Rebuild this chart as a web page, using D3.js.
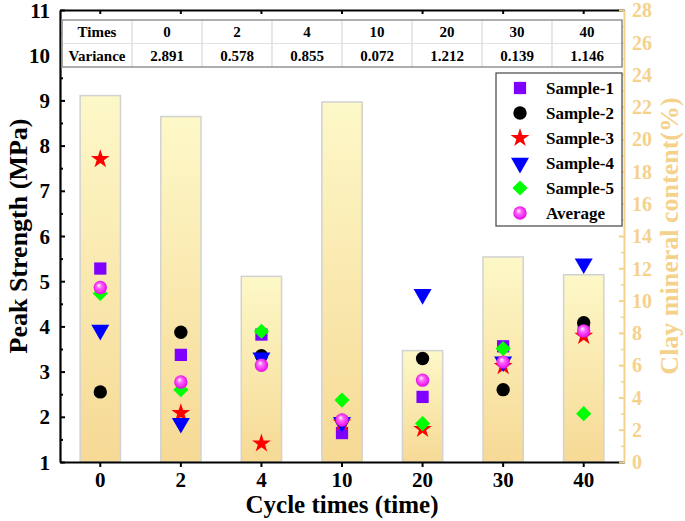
<!DOCTYPE html>
<html>
<head>
<meta charset="utf-8">
<script src="https://cdn.jsdelivr.net/npm/d3@7"></script>
<style>
  body { margin: 0; background: #fff; }
  text { font-family: "Liberation Serif", "Times New Roman", serif; font-weight: bold; }
</style>
</head>
<body>
<div id="vis"></div>
<script>
// chart data
var cycles = ['0', '2', '4', '10', '20', '30', '40'];
var clayContent = [22.7, 21.4, 11.5, 22.3, 6.9, 12.7, 11.6];
var sample1 = [5.28, 3.37, 3.82, 1.64, 2.44, 3.56, 3.98];
var sample2 = [2.55, 3.87, 3.35, 1.91, 3.29, 2.60, 4.08];
var sample3 = [7.70, 2.08, 1.41, 1.87, 1.73, 3.12, 3.79];
var sample4 = [3.92, 1.86, 3.31, 1.88, 4.71, 3.22, 5.39];
var sample5 = [4.73, 2.60, 3.89, 2.37, 1.85, 3.51, 2.07];
var average = [4.86, 2.77, 3.14, 1.93, 2.81, 3.21, 3.90];
var variance = ['2.891', '0.578', '0.855', '0.072', '1.212', '0.139', '1.146'];
var leftTicks = [1, 2, 3, 4, 5, 6, 7, 8, 9, 10, 11];
var rightTicks = [0, 2, 4, 6, 8, 10, 12, 14, 16, 18, 20, 22, 24, 26, 28];

var seriesList = [
	{name: 'Sample-1', values: sample1, shape: 'square', color: '#8000ff'},
	{name: 'Sample-2', values: sample2, shape: 'circle', color: '#000000'},
	{name: 'Sample-3', values: sample3, shape: 'star', color: '#ff0000'},
	{name: 'Sample-4', values: sample4, shape: 'triangle', color: '#0000ff'},
	{name: 'Sample-5', values: sample5, shape: 'diamond', color: '#00ff00'},
	{name: 'Average', values: average, shape: 'sphere', color: '#ff00ff'}
];

var W = 685, H = 521;
var plot = {left: 60, right: 624, top: 10, bottom: 462};
var clayColor = '#f5d28c';

var svg = d3.select('#vis').append('svg')
	.attr('width', W)
	.attr('height', H);

var defs = svg.append('defs');
var grad = defs.append('linearGradient')
	.attr('id', 'barFill')
	.attr('x1', 0).attr('y1', 0).attr('x2', 0).attr('y2', 1);
grad.append('stop').attr('offset', '0%').attr('stop-color', '#fdf8c8');
grad.append('stop').attr('offset', '100%').attr('stop-color', '#f6d995');

var sphere = defs.append('radialGradient')
	.attr('id', 'sphereFill')
	.attr('cx', '50%').attr('cy', '50%').attr('r', '55%')
	.attr('fx', '38%').attr('fy', '32%');
sphere.append('stop').attr('offset', '0%').attr('stop-color', '#ffffff');
sphere.append('stop').attr('offset', '35%').attr('stop-color', '#ff66ff');
sphere.append('stop').attr('offset', '100%').attr('stop-color', '#e000e0');

var x = d3.scaleBand()
	.domain(cycles)
	.range([plot.left, plot.right])
	.paddingInner(0.5)
	.paddingOuter(0.25);

var y = d3.scaleLinear().domain([1, 11]).range([plot.bottom, plot.top]);
var yClay = d3.scaleLinear().domain([0, 28]).range([plot.bottom, plot.top]);

// bars for clay mineral content
svg.append('g')
	.selectAll('rect')
	.data(clayContent)
	.enter()
	.append('rect')
	.attr('x', function(d, i) { return x(cycles[i]); })
	.attr('y', function(d) { return yClay(d); })
	.attr('width', x.bandwidth())
	.attr('height', function(d) { return yClay(0) - yClay(d); })
	.style('fill', 'url(#barFill)')
	.style('stroke', '#d2d2d2')
	.style('stroke-width', 1.5);

// marker shapes
function markerPath(shape) {
	if (shape === 'square') return d3.symbol().type(d3.symbolSquare).size(150)();
	if (shape === 'circle') return d3.symbol().type(d3.symbolCircle).size(140)();
	if (shape === 'star') return d3.symbol().type(d3.symbolStar).size(110)();
	if (shape === 'triangle') return d3.symbol().type(d3.symbolTriangle).size(140)();
	if (shape === 'diamond') return d3.symbol().type(d3.symbolSquare).size(115)();
	return d3.symbol().type(d3.symbolCircle).size(140)();
}

function markerTransform(shape, cx, cy) {
	var t = 'translate(' + cx + ',' + cy + ')';
	if (shape === 'triangle') t += ' rotate(180)';
	if (shape === 'diamond') t += ' rotate(45)';
	return t;
}

function markerFill(s) {
	return s.shape === 'sphere' ? 'url(#sphereFill)' : s.color;
}

seriesList.forEach(function(s) {
	svg.append('g')
		.selectAll('path')
		.data(s.values)
		.enter()
		.append('path')
		.attr('d', markerPath(s.shape))
		.attr('transform', function(d, i) {
			return markerTransform(s.shape, x(cycles[i]) + x.bandwidth() / 2, y(d));
		})
		.style('fill', markerFill(s));
});

// axes
var xAxis = d3.axisBottom(x).tickSize(5).tickSizeOuter(0).tickPadding(5);
var gx = svg.append('g')
	.attr('transform', 'translate(0,' + plot.bottom + ')')
	.call(xAxis);
gx.select('.domain').attr('stroke-width', 2.2);
gx.selectAll('.tick line').attr('stroke-width', 2);
gx.selectAll('.tick text')
	.style('font-size', '21px')
	.style('font-family', '"Liberation Serif", serif')
	.style('font-weight', 'bold');

var xTop = d3.axisTop(x).tickSize(-4).tickSizeOuter(0).tickFormat('');
var gxt = svg.append('g')
	.attr('transform', 'translate(0,' + plot.top + ')')
	.call(xTop);
gxt.select('.domain').attr('stroke-width', 2.2);
gxt.selectAll('.tick line').attr('stroke-width', 2);

var yMinor = d3.axisLeft(y).tickValues(d3.range(1.5, 11, 1)).tickSize(-3).tickFormat('');
var gym = svg.append('g')
	.attr('transform', 'translate(' + plot.left + ',0)')
	.call(yMinor);
gym.select('.domain').remove();
gym.selectAll('.tick line').attr('stroke-width', 2);

var yAxis = d3.axisLeft(y).tickValues(leftTicks).tickSize(-5).tickSizeOuter(0).tickPadding(10);
var gy = svg.append('g')
	.attr('transform', 'translate(' + plot.left + ',0)')
	.call(yAxis);
gy.select('.domain').attr('stroke-width', 2.2);
gy.selectAll('.tick line').attr('stroke-width', 2);
gy.selectAll('.tick text')
	.attr('dy', '0.34em')
	.style('font-size', '21px')
	.style('font-family', '"Liberation Serif", serif')
	.style('font-weight', 'bold');

var rMinor = d3.axisRight(yClay).tickValues(d3.range(1, 28, 2)).tickSize(-3).tickFormat('');
var grm = svg.append('g')
	.attr('transform', 'translate(' + plot.right + ',0)')
	.call(rMinor);
grm.select('.domain').remove();
grm.selectAll('.tick line').attr('stroke', clayColor).attr('stroke-width', 1.5);

var rAxis = d3.axisRight(yClay).tickValues(rightTicks).tickSize(-5).tickSizeOuter(0).tickPadding(8);
var gr = svg.append('g')
	.attr('transform', 'translate(' + plot.right + ',0)')
	.call(rAxis);
gr.select('.domain').attr('stroke', clayColor).attr('stroke-width', 2);
gr.selectAll('.tick line').attr('stroke', clayColor).attr('stroke-width', 2);
gr.selectAll('.tick text')
	.attr('fill', clayColor)
	.attr('dy', '0.34em')
	.style('font-size', '20px')
	.style('font-family', '"Liberation Serif", serif')
	.style('font-weight', 'bold');

// axis titles
svg.append('text')
	.attr('transform', 'translate(27,236) rotate(-90)')
	.attr('text-anchor', 'middle')
	.style('font-size', '26px')
	.text('Peak Strength (MPa)');

svg.append('text')
	.attr('transform', 'translate(678,236) rotate(-90)')
	.attr('text-anchor', 'middle')
	.attr('fill', clayColor)
	.style('font-size', '26px')
	.text('Clay mineral content(%)');

svg.append('text')
	.attr('x', (plot.left + plot.right) / 2)
	.attr('y', 513)
	.attr('text-anchor', 'middle')
	.style('font-size', '25px')
	.text('Cycle times (time)');

// variance table
var table = {left: 62, right: 622, top: 20, rowH: 23.5};
var colX = d3.scaleBand()
	.domain(['head'].concat(cycles))
	.range([table.left, table.right]);
var rows = [['Times'].concat(cycles), ['Variance'].concat(variance)];
var gt = svg.append('g');

gt.append('rect')
	.attr('x', table.left)
	.attr('y', table.top)
	.attr('width', table.right - table.left)
	.attr('height', table.rowH * 2)
	.style('fill', '#fff')
	.style('stroke', '#d8d8d8')
	.style('stroke-width', 1.2);

colX.domain().slice(1).forEach(function(c) {
	gt.append('line')
		.attr('x1', colX(c)).attr('x2', colX(c))
		.attr('y1', table.top).attr('y2', table.top + table.rowH * 2)
		.style('stroke', '#d8d8d8')
		.style('stroke-width', 1.2);
});
gt.append('line')
	.attr('x1', table.left).attr('x2', table.right)
	.attr('y1', table.top + table.rowH).attr('y2', table.top + table.rowH)
	.style('stroke', '#e2e2e2')
	.style('stroke-width', 1.2);
// darker outer edges like the figure
gt.append('path')
	.attr('d', 'M' + table.left + ',' + (table.top + table.rowH * 2) + 'V' + table.top + 'H' + table.right + 'V' + (table.top + table.rowH * 2) + 'H' + table.left)
	.style('fill', 'none')
	.style('stroke', '#777')
	.style('stroke-width', 1.2);

rows.forEach(function(row, r) {
	row.forEach(function(cell, c) {
		var key = colX.domain()[c];
		gt.append('text')
			.attr('x', colX(key) + colX.bandwidth() / 2)
			.attr('y', table.top + table.rowH * r + table.rowH / 2)
			.attr('dy', '0.35em')
			.attr('text-anchor', 'middle')
			.style('font-size', '15px')
			.text(cell);
	});
});

// legend
var legend = {left: 496, top: 73, right: 622, bottom: 226, rowH: 25};
var gl = svg.append('g');
gl.append('rect')
	.attr('x', legend.left)
	.attr('y', legend.top)
	.attr('width', legend.right - legend.left)
	.attr('height', legend.bottom - legend.top)
	.style('fill', '#fff')
	.style('stroke', '#444')
	.style('stroke-width', 1.2);

seriesList.forEach(function(s, i) {
	var cy = legend.top + 15 + i * legend.rowH;
	gl.append('path')
		.attr('d', markerPath(s.shape))
		.attr('transform', markerTransform(s.shape, 520, cy))
		.style('fill', markerFill(s));
	gl.append('text')
		.attr('x', 546)
		.attr('y', cy)
		.attr('dy', '0.35em')
		.style('font-size', '17px')
		.text(s.name);
});
</script>
</body>
</html>
